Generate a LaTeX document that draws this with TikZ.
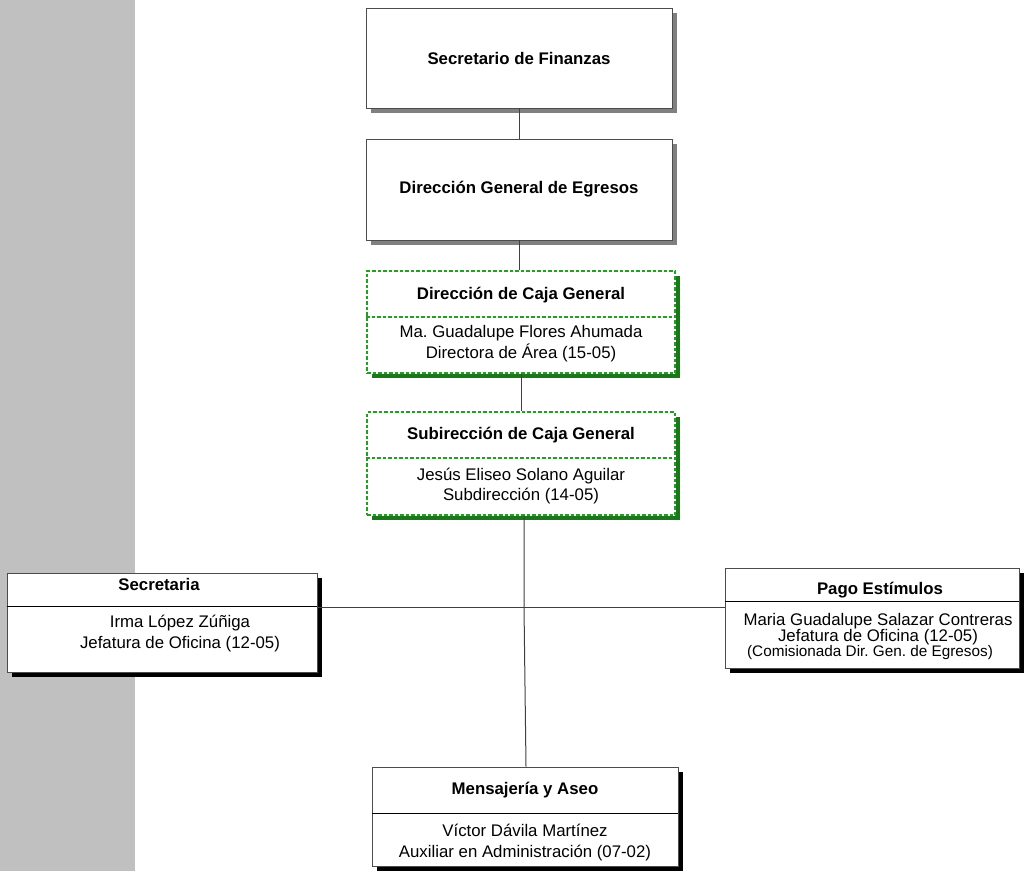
\documentclass[tikz,border=0pt]{standalone}
\usepackage{fontspec}
\setmainfont{Liberation Sans}
\frenchspacing
\definecolor{bandgray}{HTML}{C0C0C0}
\definecolor{shgray}{HTML}{808080}
\definecolor{dashgreen}{HTML}{22A022}
\definecolor{shgreen}{HTML}{1A781A}
\tikzset{
  box/.style={draw=black!70, fill=white, line width=0.9pt, minimum width=#1, inner sep=0pt},
  gbox/.style={draw=dashgreen, dash pattern=on 3.5pt off 2pt, fill=white, line width=1.2pt, minimum width=#1, inner sep=0pt},
  ttl/.style={font=\fontsize{16.8}{19}\selectfont\bfseries, align=center, inner sep=0pt},
  txt/.style={font=\fontsize{16.8}{20.5}\selectfont, align=center, inner sep=0pt},
  conn/.style={draw=black!75, line width=1pt},
  gshadow/.style={draw=shgreen, line width=3.5pt},
  gdiv/.style={draw=dashgreen, dash pattern=on 3.5pt off 2pt, line width=1.2pt},
}
\begin{document}
\begin{tikzpicture}[x=1pt,y=-1pt]
\useasboundingbox (0,0) rectangle (1024,871);
\fill[bandgray] (0,0) rectangle (135,871);

% shadows
\fill[shgray] (371,13) rectangle (677,113);
\fill[shgray] (371,144) rectangle (677,245);
\fill[black] (12,578) rectangle (322,677);
\fill[black] (730,573) rectangle (1024,673);
\fill[black] (377,772) rectangle (683,871);

% boxes
\node[box=306pt, minimum height=100pt] (fin) at (519,58) {};
\node[ttl] at (fin.center) {Secretario de Finanzas};

\node[box=306pt, minimum height=101pt] (dge) at (519,189.5) {};
\node[ttl] at (dge.center) {Dirección General de Egresos};

\node[gbox=308pt, minimum height=102pt] (dcg) at (521,322) {};
\draw[gshadow] ([shift={(2.5,6)}]dcg.north east) -- ([shift={(2.5,2.5)}]dcg.south east) -- ([shift={(6,2.5)}]dcg.south west);
\draw[gdiv] (dcg.west |- 0,317) -- (dcg.east |- 0,317);
\node[ttl] at (521,295) {Dirección de Caja General};
\node[txt] at (521,343.5) {Ma. Guadalupe Flores Ahumada\\Directora de Área (15-05)};

\node[gbox=308pt, minimum height=103pt] (scg) at (521,463.5) {};
\draw[gshadow] ([shift={(2.5,6)}]scg.north east) -- ([shift={(2.5,2.5)}]scg.south east) -- ([shift={(6,2.5)}]scg.south west);
\draw[gdiv] (scg.west |- 0,458) -- (scg.east |- 0,458);
\node[ttl] at (521,435) {Subirección de Caja General};
\node[txt] at (521,486) {Jesús Eliseo Solano Aguilar\\Subdirección (14-05)};

\node[box=310pt, minimum height=99pt] (sec) at (162,622.5) {};
\draw[black, line width=0.9pt] (sec.west |- 0,606) -- (sec.east |- 0,606);
\node[ttl] at (159,584) {Secretaria};
\node[txt] at (180,633.5) {Irma López Zúñiga\\Jefatura de Oficina (12-05)};

\node[box=294pt, minimum height=100pt] (pago) at (872,618) {};
\draw[black, line width=0.9pt] (pago.west |- 0,601) -- (pago.east |- 0,601);
\node[ttl] at (880,590) {Pago Estímulos};
\node[txt, font=\fontsize{16.8}{16}\selectfont] at (878,629) {Maria Guadalupe Salazar Contreras\\Jefatura de Oficina (12-05)};
\node[txt, font=\fontsize{15.3}{15}\selectfont] at (870,653) {(Comisionada Dir. Gen. de Egresos)};

\node[box=306pt, minimum height=99pt] (men) at (525,816.5) {};
\draw[black, line width=0.9pt] (men.west |- 0,813) -- (men.east |- 0,813);
\node[ttl] at (525,790) {Mensajería y Aseo};
\node[txt] at (525,842.5) {Víctor Dávila Martínez\\Auxiliar en Administración (07-02)};

% connectors
\coordinate (j) at (524,607);
\draw[conn] (fin.south) -- (dge.north);
\draw[conn] (dge.south) -- (dge.south |- dcg.north);
\draw[conn] (dcg.south) -- (scg.north);
\draw[conn] (scg.south -| j) -- (j) -- (men.north -| 526,0);
\draw[conn] (sec.east |- j) -- (pago.west |- j);
\end{tikzpicture}
\end{document}
